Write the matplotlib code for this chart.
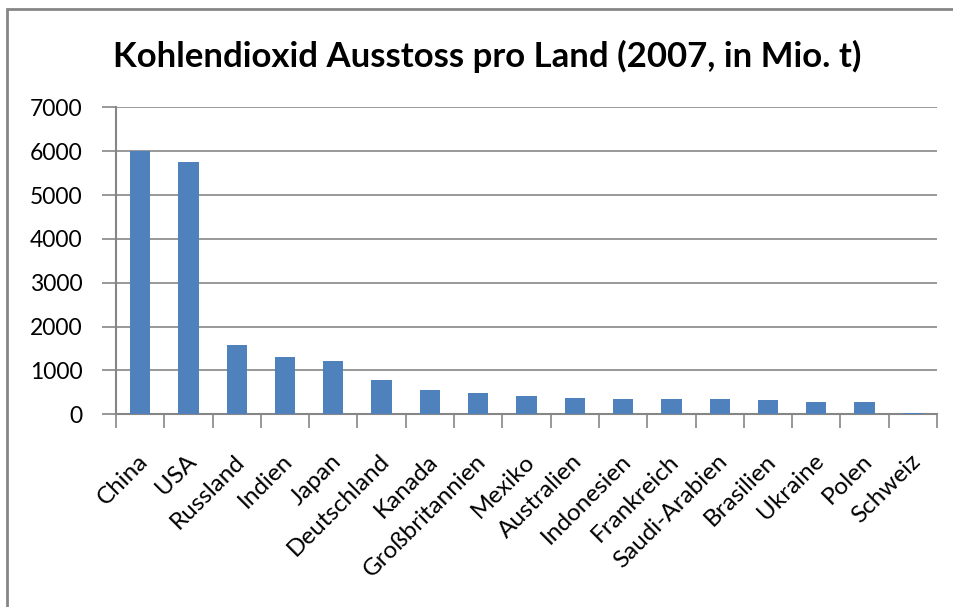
import matplotlib
matplotlib.use("Agg")
import matplotlib.pyplot as plt
import matplotlib.transforms as mtransforms
from matplotlib.patches import Rectangle

# CO2 emissions per country, 2007, million tonnes
countries = ["China", "USA", "Russland", "Indien", "Japan", "Deutschland",
             "Kanada", "Großbritannien", "Mexiko", "Australien", "Indonesien",
             "Frankreich", "Saudi-Arabien", "Brasilien", "Ukraine", "Polen",
             "Schweiz"]
emissions = [6000, 5750, 1580, 1306, 1215, 785, 560, 490, 420, 375, 350,
             350, 350, 330, 285, 285, 40]
yticks = [0, 1000, 2000, 3000, 4000, 5000, 6000, 7000]

plt.rcParams['font.family'] = ['Lato', 'DejaVu Sans']
grey = '#868686'

fig = plt.figure(figsize=(9.54, 6.07), dpi=100)
ax = fig.add_axes([116 / 954, 1 - 414.3 / 607, (937 - 116) / 954, (414.3 - 107.3) / 607])

x = list(range(len(countries)))
ax.bar(x, emissions, width=0.42, color='#4F81BD', zorder=3)

ax.set_xlim(-0.5, len(countries) - 0.5)
ax.set_ylim(0, 7000)
ax.set_yticks(yticks)
ax.set_yticklabels([str(v) for v in yticks], fontsize=16.5)
ax.yaxis.grid(True, color=grey, linewidth=1.2, zorder=0)
ax.tick_params(axis='y', length=10, width=1.2, color=grey, pad=14)

# category ticks sit between the bars
ax.set_xticks([i - 0.5 for i in range(len(countries) + 1)])
ax.set_xticklabels([])
ax.set_xticks(x, minor=True)
ax.set_xticklabels(countries, minor=True, rotation=45, ha='right',
                   rotation_mode='anchor', fontsize=17.5)
ax.tick_params(axis='x', which='major', length=10, width=1.2, color=grey)
ax.tick_params(axis='x', which='minor', length=0, pad=26)
shift = mtransforms.ScaledTranslation(-3 / 100, 0, fig.dpi_scale_trans)
for lbl in ax.get_xticklabels(minor=True):
    lbl.set_transform(lbl.get_transform() + shift)

for side in ['top', 'right']:
    ax.spines[side].set_visible(False)
for side in ['left', 'bottom']:
    ax.spines[side].set_color(grey)
    ax.spines[side].set_linewidth(1.5)

fig.text(487 / 954, 1 - 56 / 607, "Kohlendioxid Ausstoss pro Land (2007, in Mio. t)",
         ha='center', va='center', fontsize=25, fontweight='bold')

# outer chart frame, running off the right and bottom edges
fig.patches.append(Rectangle((7 / 954, -0.05), 1.1, 1 - 9 / 607 + 0.05,
                             transform=fig.transFigure, fill=False,
                             edgecolor=grey, linewidth=2, clip_on=False))

fig.savefig("out.png", dpi=100)
